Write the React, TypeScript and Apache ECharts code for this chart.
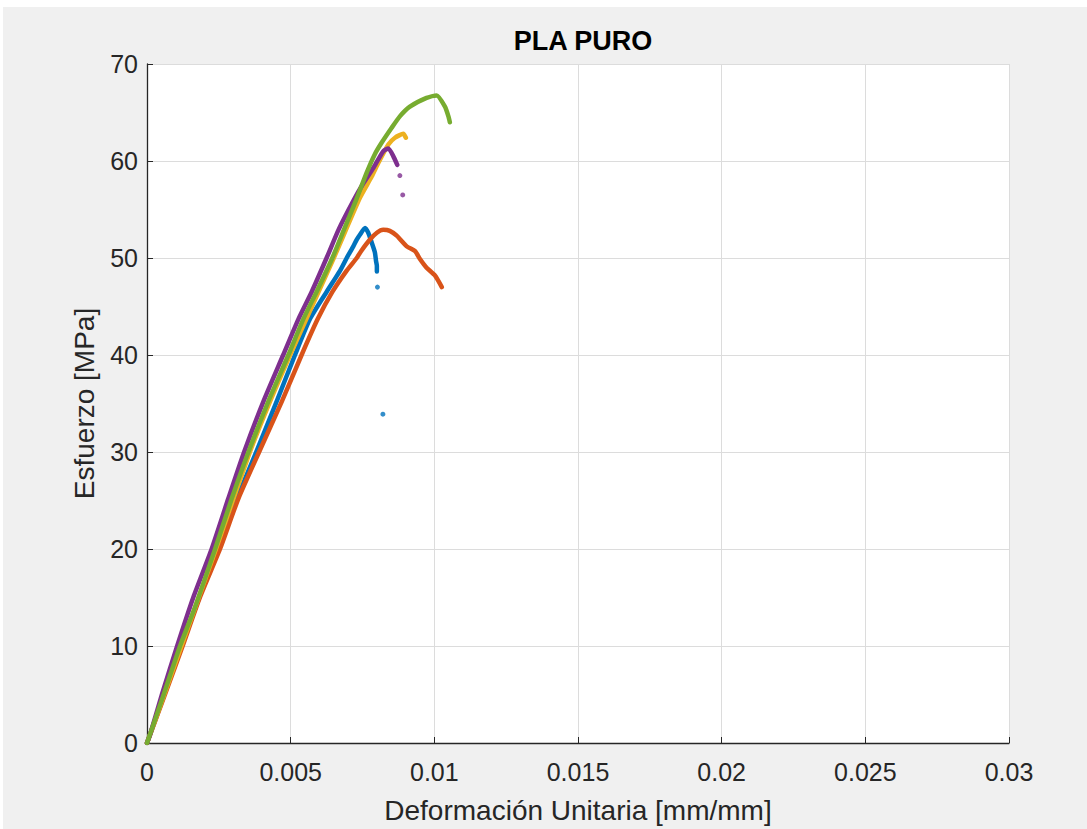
import React, { useEffect, useRef } from "react";
import * as echarts from "echarts";

// [strain mm/mm, stress MPa] pairs
const blueCurve: number[][] = [
  [0, 0], [0.0006, 5], [0.0012, 10], [0.00182, 15], [0.00245, 20], [0.0031, 25], [0.0038, 30],
  [0.00451, 35.2], [0.00515, 40], [0.00567, 43.7], [0.00625, 46.5], [0.00672, 48.7],
  [0.00695, 50], [0.00718, 51.2], [0.0073, 51.9], [0.00741, 52.4], [0.00759, 53.1],
  [0.0077, 52.6], [0.00782, 51.6], [0.00793, 50.6], [0.00797, 49.7], [0.008, 49.2],
  [0.008, 48.6],
];
const blueIsolated: number[][] = [[0.00802, 47.0], [0.00821, 33.9]];

const orangeCurve: number[][] = [
  [0, 0], [0.0006, 4.8], [0.00124, 10], [0.00184, 15], [0.00254, 20], [0.00318, 25.2],
  [0.0039, 30], [0.00469, 35.2], [0.00538, 40], [0.00594, 43.7], [0.00645, 46.5],
  [0.00695, 48.7], [0.0073, 50], [0.00745, 50.7], [0.00776, 51.9], [0.008, 52.6],
  [0.00822, 52.9], [0.00845, 52.8], [0.00869, 52.3], [0.00904, 51.2], [0.00933, 50.7],
  [0.0095, 49.9], [0.00973, 49.0], [0.01002, 48.2], [0.01026, 47.0],
];

const yellowCurve: number[][] = [
  [0, 0], [0.0006, 5], [0.0012, 10], [0.0024, 20], [0.00358, 30], [0.00428, 35.2],
  [0.00498, 40], [0.0065, 50], [0.00741, 56.2], [0.00782, 58.4], [0.00805, 59.8],
  [0.0084, 61.7], [0.00863, 62.4], [0.00892, 62.8], [0.00901, 62.4],
];

const purpleCurve: number[][] = [
  [0, 0], [0.0001, 0.8], [0.00052, 5], [0.00105, 10], [0.00161, 15], [0.00225, 20],
  [0.00283, 25.2], [0.00338, 30], [0.00405, 35.2], [0.00474, 40], [0.00527, 43.7],
  [0.00573, 46.5], [0.00625, 50], [0.00668, 53], [0.0072, 56], [0.00751, 57.6],
  [0.00788, 59.3], [0.00822, 61.0], [0.0084, 61.3], [0.00857, 60.5], [0.00871, 59.6],
];
const purpleIsolated: number[][] = [[0.0088, 58.5], [0.0089, 56.5]];

const greenCurve: number[][] = [
  [0, 0], [0.00058, 5], [0.00115, 10], [0.00167, 14], [0.00237, 20], [0.00295, 25.2],
  [0.00353, 30], [0.00422, 35.2], [0.00492, 40], [0.00544, 43.7], [0.0059, 46.5],
  [0.00645, 50], [0.00688, 53.1], [0.00728, 56], [0.00766, 58.9], [0.00793, 60.7],
  [0.00817, 61.9], [0.00851, 63.4], [0.0088, 64.6], [0.00915, 65.6], [0.00973, 66.5],
  [0.01008, 66.75], [0.01037, 65.6], [0.01049, 64.6], [0.01054, 64.0],
];

const COLORS = {
  blue: "#0072BD",
  orange: "#D95319",
  yellow: "#EDB120",
  purple: "#7E2F8E",
  green: "#77AC30",
};

const FONT = "'Liberation Sans', Arial, Helvetica, sans-serif";

function curve(name: string, data: number[][], color: string) {
  return {
    name,
    type: "line",
    data,
    showSymbol: false,
    symbol: "none",
    smooth: 0.2,
    lineStyle: { color, width: 4.5, cap: "round", join: "round" },
    itemStyle: { color },
    z: 2,
  };
}

function dots(name: string, data: number[][], color: string) {
  return {
    name,
    type: "scatter",
    data,
    symbol: "circle",
    symbolSize: 5,
    itemStyle: { color },
    z: 3,
  };
}

export default function App() {
  const ref = useRef<HTMLDivElement>(null);

  useEffect(() => {
    if (!ref.current) return;
    const chart = echarts.init(ref.current, undefined, { renderer: "svg" });
    chart.setOption({
      animation: false,
      backgroundColor: "#ffffff",
      graphic: [
        {
          type: "rect",
          left: 3,
          top: 7,
          shape: { width: 1084, height: 822 },
          style: { fill: "#f0f0f0" },
          z: -10,
        },
      ],
      title: {
        text: "PLA PURO",
        left: 578,
        top: 22,
        textAlign: "center",
        textStyle: { fontFamily: FONT, fontSize: 27, fontWeight: "bold", color: "#000" },
      },
      grid: {
        left: 147,
        top: 64,
        width: 862,
        height: 681,
        show: true,
        backgroundColor: "#ffffff",
        borderWidth: 0,
      },
      xAxis: {
        type: "value",
        min: 0,
        max: 0.03,
        interval: 0.005,
        name: "Deformación Unitaria [mm/mm]",
        nameLocation: "middle",
        nameGap: 53,
        nameTextStyle: { fontFamily: FONT, fontSize: 28, color: "#262626" },
        axisLine: { show: true, lineStyle: { color: "#262626", width: 1.3 } },
        axisTick: { show: true, inside: true, length: 6, lineStyle: { color: "#262626" } },
        axisLabel: {
          fontFamily: FONT,
          fontSize: 25,
          color: "#262626",
          margin: 16,
          formatter: (v: number) => String(Number(v.toFixed(3))),
        },
        splitLine: { show: true, lineStyle: { color: "#dcdcdc", width: 1 } },
      },
      yAxis: {
        type: "value",
        min: 0,
        max: 70,
        interval: 10,
        name: "Esfuerzo [MPa]",
        nameLocation: "middle",
        nameGap: 49,
        nameTextStyle: { fontFamily: FONT, fontSize: 28, color: "#262626" },
        axisLine: { show: true, lineStyle: { color: "#262626", width: 1.3 } },
        axisTick: { show: true, inside: true, length: 6, lineStyle: { color: "#262626" } },
        axisLabel: { fontFamily: FONT, fontSize: 25, color: "#262626", margin: 9 },
        splitLine: { show: true, lineStyle: { color: "#dcdcdc", width: 1 } },
      },
      series: [
        curve("Probeta 1", blueCurve, COLORS.blue),
        dots("Probeta 1 ", blueIsolated, COLORS.blue),
        curve("Probeta 2", orangeCurve, COLORS.orange),
        curve("Probeta 3", yellowCurve, COLORS.yellow),
        curve("Probeta 4", purpleCurve, COLORS.purple),
        dots("Probeta 4 ", purpleIsolated, COLORS.purple),
        curve("Probeta 5", greenCurve, COLORS.green),
      ],
    });
    return () => chart.dispose();
  }, []);

  return (
    <div
      ref={ref}
      style={{ position: "fixed", left: 0, top: 0, width: 1087, height: 829 }}
    />
  );
}
